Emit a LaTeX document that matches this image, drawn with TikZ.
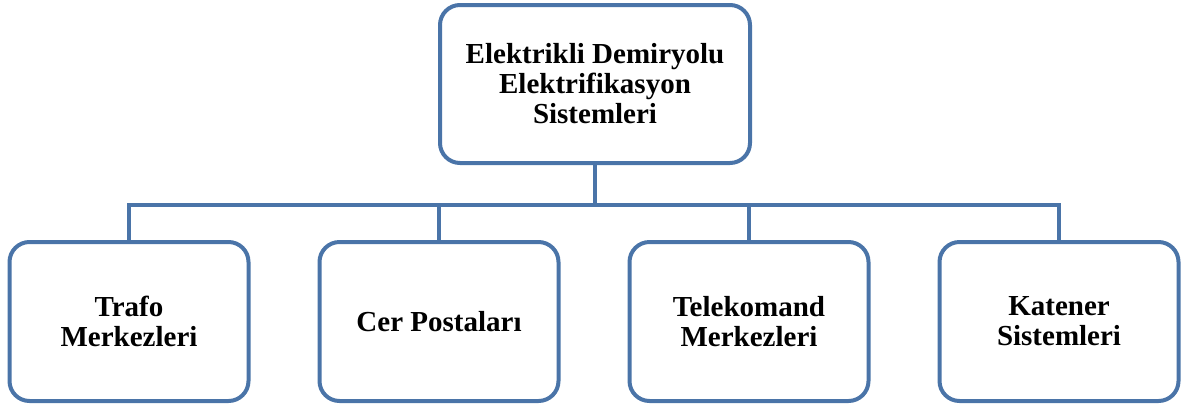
\documentclass[tikz,border=0pt]{standalone}
\usepackage{fontspec}
\setmainfont{Liberation Serif}
\definecolor{frameblue}{RGB}{74,116,168}
\tikzset{
  box/.style={draw=frameblue, line width=4pt, rounded corners=20pt, fill=white,
    align=center, inner sep=0pt, font=\fontsize{29}{30}\selectfont\bfseries},
  topbox/.style={box, minimum width=310pt, minimum height=158pt},
  leafbox/.style={box, minimum width=239pt, minimum height=159pt},
  link/.style={draw=frameblue, line width=4pt, line join=miter}
}
\begin{document}
\begin{tikzpicture}[x=1pt,y=-1pt]
\useasboundingbox (0,0) rectangle (1185,408);
% hierarchy bus
\coordinate (bus) at (595,205);
\node[topbox] (root) at (595,84) {Elektrikli Demiryolu\\Elektrifikasyon\\Sistemleri};
\node[leafbox] (b1) at (129,321.5) {Trafo\\Merkezleri};
\node[leafbox] (b2) at (439,321.5) {Cer Postaları};
\node[leafbox] (b3) at (749,321.5) {Telekomand\\Merkezleri};
\node[leafbox] (b4) at (1059,321.5) {Katener\\Sistemleri};
% connectors
\draw[link] (root.south) -- (root.south |- bus);
\draw[link] (b1.north) -- (b1.north |- bus) -- (b4.north |- bus) -- (b4.north);
\draw[link] (b2.north) -- (b2.north |- bus);
\draw[link] (b3.north) -- (b3.north |- bus);
\end{tikzpicture}
\end{document}
